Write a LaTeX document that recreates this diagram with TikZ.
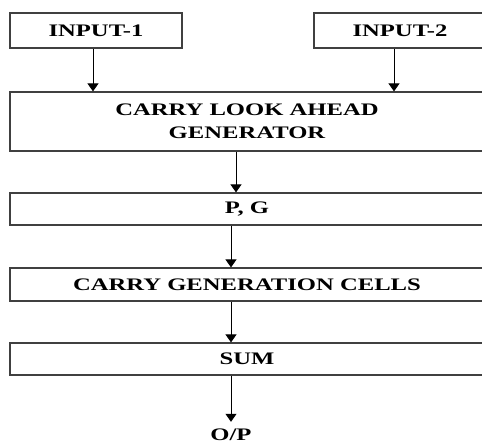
\documentclass[tikz,border=0pt]{standalone}
\usepackage{fontspec}
\setmainfont[FakeStretch=1.4]{Liberation Serif}
\usetikzlibrary{arrows.meta, positioning, calc}
\tikzset{
  box/.style={draw=black!75, line width=1.2pt, minimum height=#1, inner sep=0pt,
    font=\fontsize{17.6}{23}\selectfont\bfseries, align=center},
  box/.default=32pt,
  lbl/.style={inner sep=0pt, text height=12pt, text depth=0pt,
    font=\fontsize{17.6}{23}\selectfont\bfseries},
  arr/.style={-{Triangle[length=8pt, width=11pt]}, line width=0.9pt},
}
\begin{document}
\begin{tikzpicture}[x=1pt, y=-1pt]
    \useasboundingbox (0,0) rectangle (482,443);
    \clip (0,0) rectangle (482,443);
    \node[box=35pt, minimum width=172pt] (in1) at (96,30.5) {INPUT-1};
    \node[box=35pt, minimum width=172pt] (in2) at (400,30.5) {INPUT-2};
    \node[box=59pt, minimum width=474pt] (cla) at (247,121.5) {CARRY LOOK AHEAD\\GENERATOR};
    \node[box, minimum width=474pt] (pg) at (247,209) {P, G};
    \node[box=33pt, minimum width=474pt] (cgc) at (247,284.5) {CARRY GENERATION CELLS};
    \node[box, minimum width=474pt] (sum) at (247,359) {SUM};
    \node[lbl, anchor=base] (op) at (231,440) {O/P};
    \draw[arr] ([xshift=-3pt]in1.south) -- ([xshift=-3pt]in1.south |- cla.north);
    \draw[arr] ([xshift=-6pt]in2.south) -- ([xshift=-6pt]in2.south |- cla.north);
    \draw[arr] ([xshift=-11pt]cla.south) -- ([xshift=-11pt]cla.south |- pg.north);
    \draw[arr] (pg.south -| op) -- (cgc.north -| op);
    \draw[arr] (cgc.south -| op) -- (sum.north -| op);
    \draw[arr] (sum.south -| op) -- ([yshift=6pt]op.north);
  \end{tikzpicture}
\end{document}
